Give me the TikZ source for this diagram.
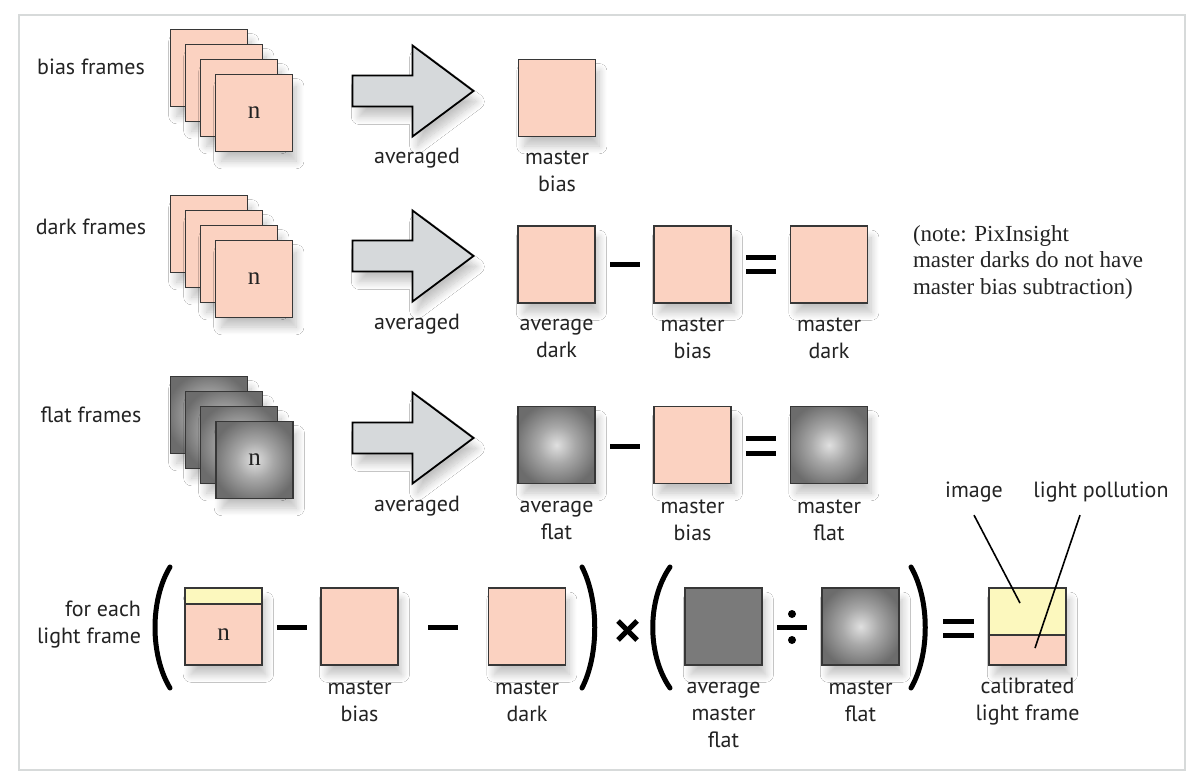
\documentclass[tikz,border=0pt]{standalone}
\usepackage{fontspec}
\setmainfont{Liberation Serif}
\newfontfamily\labfont{PT Sans}
\usetikzlibrary{shadows.blur}
\definecolor{pinkfill}{RGB}{251,210,193}
\definecolor{yellowfill}{RGB}{252,248,190}
\definecolor{arrowfill}{RGB}{214,217,219}
\definecolor{boxline}{RGB}{55,55,55}
\definecolor{flatgray}{RGB}{122,122,122}
\definecolor{textcol}{RGB}{35,35,35}
\definecolor{framegray}{RGB}{215,218,218}
\definecolor{flatc}{RGB}{224,224,224}
\definecolor{flatm}{RGB}{168,168,168}
\definecolor{flate}{RGB}{108,108,108}
\pgfdeclareradialshading{flatshade}{\pgfpoint{0bp}{0bp}}{color(0bp)=(flatc); color(12bp)=(flatm); color(28bp)=(flate); color(40bp)=(flate)}
\begin{document}
\begin{tikzpicture}[x=1pt,y=-1pt,
  every node/.style={inner sep=0pt, outer sep=0pt},
  shad/.style={blur shadow={shadow xshift=5pt, shadow yshift=-11pt, shadow blur radius=8pt, shadow opacity=24, shadow blur steps=12, shadow scale=0.97}},
  sq/.style={draw=boxline, line width=1.6pt, minimum width=77pt, minimum height=77pt},
  pinksq/.style={sq, fill=pinkfill, shad},
  flatsq/.style={sq, shading=flatshade, shad},
  plainsq/.style={sq, fill=flatgray, shad},
  lab/.style={font=\labfont\fontsize{22}{27}\selectfont, text=textcol, align=center},
  serifn/.style={font=\fontsize{25}{30}\selectfont, text=textcol},
  note/.style={font=\fontsize{23}{26.5}\selectfont, text=textcol, align=left},
  op/.style={line width=5pt, black},
  ptr/.style={line width=1.6pt, black},
  arrowstyle/.style={draw=black, line width=1.8pt, fill=arrowfill, line join=miter, shad},
  fatarrow/.pic={\path[arrowstyle] (-60,-15.5) -- (0,-15.5) -- (0,-45.5) -- (61,0) -- (0,45.5) -- (0,15.5) -- (-60,15.5) -- cycle;}
]
\useasboundingbox (0,0) rectangle (1202,778);
\fill[white] (0,0) rectangle (1202,778);
\draw[framegray, line width=2pt] (19,15) rectangle (1185,770);

% ---------- row 1: bias ----------
\node[lab] (lbias) at (91,67) {bias frames};
\node[pinksq] (b1) at (209,68) {};
\node[pinksq] (b2) at (224,83) {};
\node[pinksq] (b3) at (239,98) {};
\node[pinksq, serifn] (b4) at (254,113) {n};
\pic at (412.5,91) {fatarrow};
\node[lab] (avg1) at (417,158) {averaged};
\node[pinksq] (mbias1) at (557,98) {};
\node[lab] (mbias1l) at (557,171.5) {master\\bias};

% ---------- row 2: dark ----------
\node[lab] (ldark) at (91,227) {dark frames};
\node[pinksq] (d1) at (209,234) {};
\node[pinksq] (d2) at (224,249) {};
\node[pinksq] (d3) at (239,264) {};
\node[pinksq, serifn] (d4) at (254,279) {n};
\pic at (412.5,256) {fatarrow};
\node[lab] (avg2) at (417,324) {averaged};
\node[pinksq] (adark) at (556.5,264.5) {};
\node[lab] (adarkl) at (556.5,338) {average\\dark};
\draw[op] (610,264) -- (640,264);
\node[pinksq] (mbias2) at (692.5,264.5) {};
\node[lab] (mbias2l) at (692.5,338) {master\\bias};
\draw[op] (746,257) -- (776,257);
\draw[op] (746,271) -- (776,271);
\node[pinksq] (mdark) at (829,264.5) {};
\node[lab] (mdarkl) at (829,338) {master\\dark};
\node[note, anchor=west] (notel) at (913,262) {(note: PixInsight\\master darks do not have\\master bias subtraction)};

% ---------- row 3: flat ----------
\node[lab] (lflat) at (91,415) {flat frames};
\node[flatsq] (f1) at (209,415) {};
\node[flatsq] (f2) at (224,430) {};
\node[flatsq] (f3) at (239,445) {};
\node[flatsq, serifn] (f4) at (254.5,460) {n};
\pic at (412.5,438) {fatarrow};
\node[lab] (avg3) at (417,506) {averaged};
\node[flatsq] (aflat) at (556.5,445) {};
\node[lab] (aflatl) at (556.5,520) {average\\flat};
\draw[op] (610,446) -- (640,446);
\node[pinksq] (mbias3) at (692.5,445) {};
\node[lab] (mbias3l) at (692.5,520) {master\\bias};
\draw[op] (746,438) -- (776,438);
\draw[op] (746,453) -- (776,453);
\node[flatsq] (mflat) at (829,445) {};
\node[lab] (mflatl) at (829,520) {master\\flat};

% ---------- row 4: light frame ----------
\node[lab, align=right, anchor=east] (llight) at (141,625) {for each\\light frame};
\draw[op, line cap=round] (170,567) .. controls (150,600) and (150,655) .. (170,688);
\node[pinksq] (light) at (223.5,626.5) {};
\fill[yellowfill] (light.north west) rectangle (262,604);
\draw[boxline, line width=1.6pt] (185,604) -- (262,604);
\draw[boxline, line width=1.6pt] (light.north west) rectangle (light.south east);
\node[serifn] (lightn) at (223.5,635) {n};
\draw[op] (277,627) -- (307,627);
\node[pinksq] (mbias4) at (359.5,626.5) {};
\node[lab] (mbias4l) at (359.5,701.5) {master\\bias};
\draw[op] (428,627) -- (458,627);
\node[pinksq] (mdark4) at (527,626.5) {};
\node[lab] (mdark4l) at (527,701.5) {master\\dark};
\draw[op, line cap=round] (582,567) .. controls (599,600) and (599,655) .. (582,688);
\draw[op] (618,621) -- (637,640);
\draw[op] (618,640) -- (637,621);
\draw[op, line cap=round] (670,567) .. controls (647,600) and (647,655) .. (670,688);
\node[plainsq] (amflat) at (723.5,626.5) {};
\node[lab] (amflatl) at (723.5,714.5) {average\\master\\flat};
\draw[op] (777,627) -- (807,627);
\fill (792,614) circle (4);
\fill (792,640) circle (4);
\node[flatsq] (mflat4) at (860.5,626.5) {};
\node[lab] (mflat4l) at (860.5,701.5) {master\\flat};
\draw[op, line cap=round] (911,567) .. controls (930,600) and (930,655) .. (911,688);
\draw[op] (943,621) -- (974,621);
\draw[op] (943,635) -- (974,635);
\node[pinksq] (cal) at (1027.5,626.5) {};
\fill[yellowfill] (cal.north west) rectangle (1066,635);
\draw[boxline, line width=1.6pt] (989,635) -- (1066,635);
\draw[boxline, line width=1.6pt] (cal.north west) rectangle (cal.south east);
\node[lab] (call) at (1027.5,701.5) {calibrated\\light frame};
\node[lab] (imglab) at (974,492) {image};
\node[lab] (lplab) at (1101,492) {light pollution};
\coordinate (imgpt) at (1020,603);
\coordinate (lppt) at (1035,648);
\draw[ptr] ([yshift=-13pt]imglab.south) -- (imgpt);
\draw[ptr] ([xshift=-21pt,yshift=-13pt]lplab.south) -- (lppt);
\end{tikzpicture}
\end{document}
